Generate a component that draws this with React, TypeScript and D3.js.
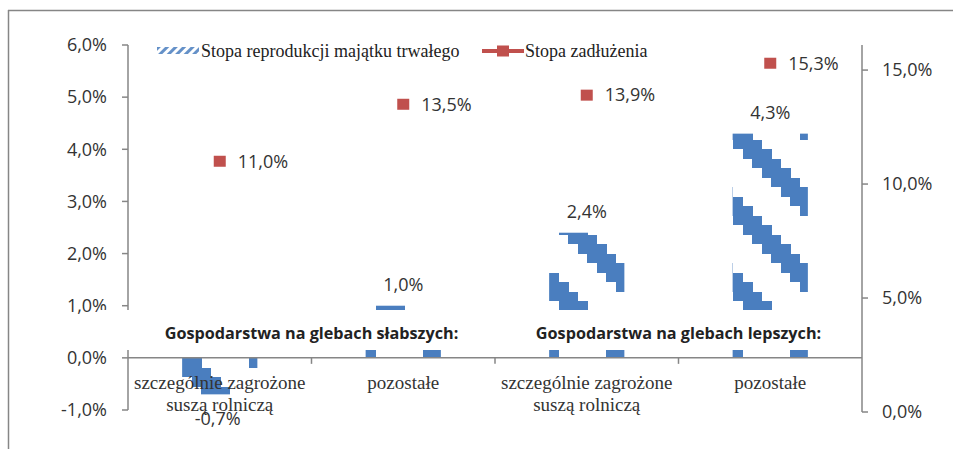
import { useEffect, useRef } from 'react';
import * as d3 from 'd3';

// Chart data
const categories = [
    ["szczególnie zagrożone", "suszą rolniczą"],
    ["pozostałe"],
    ["szczególnie zagrożone", "suszą rolniczą"],
    ["pozostałe"]
];
const reproduction = [-0.7, 1.0, 2.4, 4.3];
const debt = [11.0, 13.5, 13.9, 15.3];
const groupLabels = ["Gospodarstwa na glebach słabszych:", "Gospodarstwa na glebach lepszych:"];
const leftTicks = [-1, 0, 1, 2, 3, 4, 5, 6];
const rightTicks = [0, 5, 10, 15];
const legendLabels = ["Stopa reprodukcji majątku trwałego", "Stopa zadłużenia"];

const WIDTH = 953;
const HEIGHT = 449;
const BLUE = "#4a7ebf";
const RED = "#c0504d";
const GRAY = "#868686";
const SANS = "'Open Sans', sans-serif";
const SERIF = "'Liberation Serif', 'Times New Roman', serif";

const pct = (v: number) => v.toFixed(1).replace(".", ",") + "%";

function App() {
    const ref = useRef<SVGSVGElement>(null);

    const draw = () => {
        const svg = d3.select(ref.current);
        svg.selectAll("*").remove();

        const x = d3.scaleBand<number>()
            .domain(categories.map((c, i) => i))
            .range([128, 862])
            .paddingInner(0.59)
            .paddingOuter(0.295);
        const yL = d3.scaleLinear().domain([-1, 6]).range([410, 45]);
        const yR = d3.scaleLinear().domain([0, 16.1]).range([412, 45]);
        const step = x.step();
        const center = (i: number) => (x(i) as number) + x.bandwidth() / 2;

        // hatch patterns, one per bar anchored to its left edge and the baseline
        const defs = svg.append("defs");
        const cell = 9.5;
        const tile = cell * 8;
        reproduction.forEach((v, bi) => {
            const p = defs.append("pattern")
                .attr("id", "hatch" + bi)
                .attr("patternUnits", "userSpaceOnUse")
                .attr("x", Math.round(x(bi) as number))
                .attr("y", Math.round(yL(0)))
                .attr("width", tile)
                .attr("height", tile);
            for (let i = 0; i < 8; i++) {
                [-tile, 0, tile].forEach(off => {
                    p.append("rect")
                        .attr("x", i * cell)
                        .attr("y", (i - 1) * cell + off)
                        .attr("width", cell + 0.5)
                        .attr("height", cell * 3)
                        .attr("shape-rendering", "crispEdges")
                        .attr("fill", BLUE);
                });
            }
        });
        const lp = defs.append("pattern")
            .attr("id", "legendHatch")
            .attr("patternUnits", "userSpaceOnUse")
            .attr("width", 6)
            .attr("height", 6)
            .attr("patternTransform", "rotate(45)");
        lp.append("rect").attr("width", 3).attr("height", 6).attr("fill", BLUE).attr("opacity", 0.85);

        // outer border
        svg.append("line").attr("x1", 8).attr("x2", WIDTH).attr("y1", 10.5).attr("y2", 10.5)
            .attr("stroke", GRAY).attr("stroke-width", 1.5);
        svg.append("line").attr("x1", 8.5).attr("x2", 8.5).attr("y1", 10).attr("y2", HEIGHT)
            .attr("stroke", GRAY).attr("stroke-width", 1.5);

        // bars
        svg.append("g")
            .selectAll("rect")
            .data(reproduction)
            .enter()
            .append("rect")
            .attr("x", (d, i) => x(i) as number)
            .attr("y", d => Math.min(yL(d), yL(0)))
            .attr("width", x.bandwidth())
            .attr("height", d => Math.abs(yL(d) - yL(0)))
            .attr("fill", (d, i) => "url(#hatch" + i + ")");

        // left axis
        const gl = svg.append("g").attr("font-family", SANS).attr("font-size", 18).attr("fill", "#333");
        gl.append("line").attr("x1", 128).attr("x2", 128).attr("y1", yL(6)).attr("y2", yL(-1))
            .attr("stroke", GRAY).attr("stroke-width", 1.5);
        leftTicks.forEach(t => {
            gl.append("line").attr("x1", 122).attr("x2", 128).attr("y1", yL(t)).attr("y2", yL(t))
                .attr("stroke", GRAY).attr("stroke-width", 1.5);
            gl.append("text").attr("x", 107).attr("y", yL(t)).attr("dy", "0.35em")
                .attr("text-anchor", "end").text(pct(t));
        });

        // right axis
        const gr = svg.append("g").attr("font-family", SANS).attr("font-size", 18).attr("fill", "#333");
        gr.append("line").attr("x1", 862).attr("x2", 862).attr("y1", yR.range()[1]).attr("y2", yR(0))
            .attr("stroke", GRAY).attr("stroke-width", 1.5);
        rightTicks.forEach(t => {
            gr.append("line").attr("x1", 862).attr("x2", 868).attr("y1", yR(t)).attr("y2", yR(t))
                .attr("stroke", GRAY).attr("stroke-width", 1.5);
            gr.append("text").attr("x", 882).attr("y", yR(t)).attr("dy", "0.35em").text(pct(t));
        });

        // white boxes behind group labels
        svg.append("rect").attr("x", 100).attr("y", 310).attr("width", 750).attr("height", 40).attr("fill", "#fff");

        // category axis
        svg.append("line").attr("x1", 128).attr("x2", 862).attr("y1", yL(0)).attr("y2", yL(0))
            .attr("stroke", GRAY).attr("stroke-width", 1.5);
        d3.range(categories.length - 1).forEach(i => {
            const bx = 128 + step * (i + 1);
            svg.append("line").attr("x1", bx).attr("x2", bx).attr("y1", yL(0)).attr("y2", yL(0) + 6)
                .attr("stroke", GRAY).attr("stroke-width", 1.5);
        });

        // group labels
        groupLabels.forEach((g, gi) => {
            svg.append("text")
                .attr("x", 128 + step * (gi * 2 + 1))
                .attr("y", 333).attr("dy", "0.35em")
                .attr("text-anchor", "middle")
                .attr("font-family", SANS).attr("font-weight", "bold").attr("font-size", 16.2)
                .attr("fill", "#222")
                .text(g);
        });

        // category labels
        categories.forEach((lines, i) => {
            lines.forEach((l, li) => {
                svg.append("text")
                    .attr("x", center(i)).attr("y", 389 + li * 22)
                    .attr("text-anchor", "middle")
                    .attr("font-family", SERIF).attr("font-size", 19).attr("fill", "#333")
                    .text(l);
            });
        });

        // bar labels
        svg.append("g")
            .selectAll("text")
            .data(reproduction)
            .enter()
            .append("text")
            .attr("x", (d, i) => center(i) - (d < 0 ? 2 : 0))
            .attr("y", d => d < 0 ? yL(d) + 24 : yL(d) - 21)
            .attr("dy", "0.35em")
            .attr("text-anchor", "middle")
            .attr("font-family", SANS).attr("font-size", 18).attr("fill", "#333")
            .text(d => pct(d));

        // debt markers
        svg.append("g")
            .selectAll("rect")
            .data(debt)
            .enter()
            .append("rect")
            .attr("x", (d, i) => center(i) - 6)
            .attr("y", d => yR(d) - 5.5)
            .attr("width", 12)
            .attr("height", 11)
            .attr("fill", RED);
        svg.append("g")
            .selectAll("text")
            .data(debt)
            .enter()
            .append("text")
            .attr("x", (d, i) => center(i) + 18)
            .attr("y", d => yR(d))
            .attr("dy", "0.35em")
            .attr("font-family", SANS).attr("font-size", 18).attr("fill", "#333")
            .text(d => pct(d));

        // legend
        const lg = svg.append("g").attr("font-family", SERIF).attr("font-size", 18).attr("fill", "#222");
        lg.append("rect").attr("x", 157).attr("y", 47).attr("width", 42).attr("height", 7).attr("fill", "url(#legendHatch)");
        lg.append("text").attr("x", 201).attr("y", 51).attr("dy", "0.35em").text(legendLabels[0]);
        lg.append("line").attr("x1", 482).attr("x2", 524).attr("y1", 51).attr("y2", 51)
            .attr("stroke", RED).attr("stroke-width", 4);
        lg.append("rect").attr("x", 497).attr("y", 45.5).attr("width", 12).attr("height", 11).attr("fill", RED);
        lg.append("text").attr("x", 525).attr("y", 51).attr("dy", "0.35em").text(legendLabels[1]);
    };

    useEffect(() => draw(), []);

    return (
        <svg ref={ref} width={WIDTH} height={HEIGHT}
            style={{ position: "absolute", left: 0, top: 0, background: "#fff" }} />
    );
}

export default App;
